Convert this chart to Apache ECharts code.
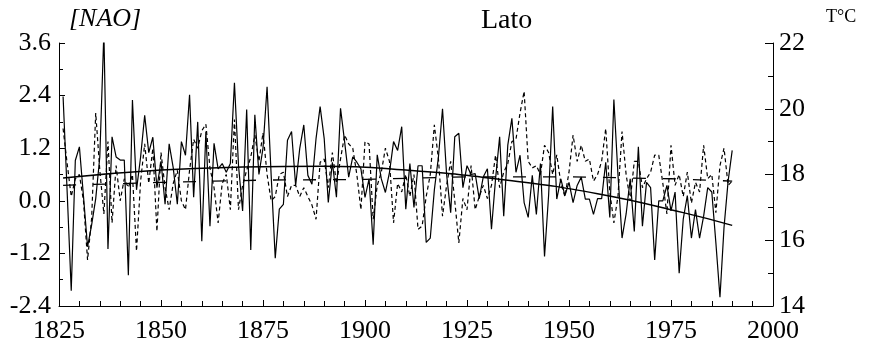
<!DOCTYPE html>
<html>
<head>
<meta charset="utf-8">
<script src="https://cdn.jsdelivr.net/npm/echarts@6/dist/echarts.min.js"></script>
<style>
  html, body { margin: 0; padding: 0; background: #fff; }
  #main { width: 870px; height: 346px; }
</style>
</head>
<body>
<div id="main"></div>
<script>
// summer (Lato) series, one value per year from startYear
var startYear = 1826;

// NAO index, left axis
var naoSummer = [
  2.38, 0.2, -2.05, 0.92, 1.23, 0.1, -1.05, -0.55, 0.05, 1.0,
  3.85, -1.1, 1.46, 1.0, 0.93, 0.93, -1.7, 2.3, 0.25, 1.0,
  1.95, 1.1, 1.45, 0.3, 0.9, -0.08, 1.3, 0.75, -0.08, 1.35,
  1.04, 2.42, 0.08, 1.8, -0.92, 1.58, -0.58, 1.31, 0.73, 0.85,
  0.65, 0.85, 2.69, 0.8, -0.23, 2.08, -1.12, 1.96, 0.6, 1.2,
  2.6, 0.58, -1.31, -0.19, -0.08, 1.38, 1.58, 0.35, 1.19, 1.73,
  0.58, 0.38, 1.42, 2.15, 1.42, -0.04, 0.88, 0.08, 2.11, 1.35,
  0.54, 1.0, 0.88, 0.73, 0.08, 0.5, -1.0, 1.05, 0.5, 0.19,
  0.65, 1.35, 1.15, 1.69, -0.19, 0.85, -0.15, 0.8, 0.8, -0.95,
  -0.85, 0.25, 1.0, 2.1, 0.6, -0.27, 1.46, 1.54, 0.3, 0.8,
  0.6, 0.62, 0.05, 0.55, 0.73, -0.65, 0.5, 1.46, -0.35, 1.27,
  1.88, 0.65, 1.04, -0.04, -0.38, 0.58, -0.31, 0.85, -1.27, 0.12,
  2.15, 0.04, 0.5, 0.12, 0.42, -0.04, 0.35, 0.54, 0.04, 0.04,
  -0.31, 0.05, 0.05, 0.88, -0.38, 2.31, 0.6, -0.85, -0.3, 0.5,
  -0.7, 1.23, -0.58, 0.42, 0.3, -1.35, 0.0, 0.0, 0.35, -0.23,
  0.2, -1.65, -0.42, 0.12, -0.85, -0.2, -0.85, -0.35, 0.3, 0.2,
  -0.96, -2.2, -0.6, 0.45, 1.15
];

// summer temperature, right axis (deg C)
var tempSummer = [
  19.40, 18.33, 17.33, 17.87, 18.00, 17.20, 15.40, 16.67, 19.87, 18.13,
  16.80, 19.00, 16.53, 18.27, 17.20, 17.87, 17.60, 18.00, 15.67, 17.80,
  18.93, 17.73, 18.80, 16.27, 18.67, 17.60, 16.93, 17.73, 18.13, 17.20,
  16.93, 18.13, 19.07, 18.80, 19.33, 19.53, 18.20, 17.60, 16.53, 17.73,
  18.00, 16.93, 19.67, 16.93, 17.67, 18.13, 18.53, 19.20, 18.40, 19.27,
  18.00, 17.20, 17.33, 18.00, 18.07, 17.33, 17.67, 17.67, 17.33, 17.60,
  17.33, 17.07, 16.64, 18.37, 18.47, 17.60, 18.67, 17.73, 18.47, 19.20,
  18.93, 18.80, 18.00, 16.93, 19.00, 18.93, 16.64, 17.67, 18.07, 18.80,
  18.40, 16.53, 17.73, 17.47, 18.00, 17.33, 18.00, 16.33, 16.43, 17.33,
  18.00, 19.51, 18.47, 16.73, 17.67, 18.40, 17.20, 15.92, 17.27, 16.93,
  18.27, 16.93, 17.33, 17.67, 17.27, 17.67, 18.59, 17.60, 18.07, 18.33,
  19.00, 19.07, 19.87, 20.53, 18.40, 18.20, 18.27, 18.00, 18.89, 18.67,
  18.00, 18.60, 17.73, 17.33, 18.07, 19.20, 18.40, 18.89, 18.40, 18.47,
  17.80, 18.00, 18.40, 19.40, 17.47, 16.53, 17.33, 19.31, 18.00, 17.20,
  18.40, 18.40, 17.60, 17.87, 18.07, 18.59, 18.59, 17.73, 16.80, 18.89,
  17.67, 18.00, 17.33, 18.07, 17.13, 17.76, 17.47, 18.89, 17.87, 18.00,
  16.84, 18.27, 18.80, 17.67, 17.80
];

// long-term temperature level (long dashes)
var meanYears = [1826, 1850, 1875, 1900, 1925, 1950, 1975, 1990];
var meanTemp  = [17.67, 17.76, 17.83, 17.85, 17.93, 17.93, 17.87, 17.80];

// NAO trend curve
var trendYears = [1826, 1850, 1870, 1890, 1910, 1935, 1957, 1978, 1990];
var trendNao   = [0.52, 0.70, 0.77, 0.79, 0.70, 0.47, 0.16, -0.27, -0.56];

function byYear(vals) {
  return vals.map(function (v, i) { return [startYear + i, v]; });
}
function zip(xs, ys) {
  return xs.map(function (x, i) { return [x, ys[i]]; });
}

var serif = 'Liberation Serif';
var chart = echarts.init(document.getElementById('main'));

var axisLine = { show: true, onZero: false, lineStyle: { color: '#000', width: 1 } };
var tickStyle = { color: '#000', width: 1 };

var option = {
  animation: false,
  backgroundColor: '#fff',
  grid: { left: 59, right: 97, top: 43, bottom: 40 },
  title: [
    { text: 'Lato', left: 476, top: 2, textStyle: { fontFamily: serif, fontSize: 28, fontWeight: 'normal', color: '#000' } },
    { text: '[NAO]', left: 64, top: 1, textStyle: { fontFamily: serif, fontSize: 26, fontStyle: 'italic', fontWeight: 'normal', color: '#000' } },
    { text: 'T\u00B0C', left: 821, top: 3, textStyle: { fontFamily: serif, fontSize: 18, fontWeight: 'normal', color: '#000' } }
  ],
  xAxis: {
    type: 'value', min: 1825, max: 2000, interval: 25,
    axisLine: axisLine,
    axisTick: { show: true, inside: true, length: 6, lineStyle: tickStyle },
    minorTick: { show: true, splitNumber: 5, length: 5, lineStyle: tickStyle },
    splitLine: { show: false },
    axisLabel: {
      color: '#000', fontFamily: serif, fontSize: 26, margin: 12,
      formatter: function (v) { return String(v); }
    }
  },
  yAxis: [
    {
      type: 'value', position: 'left', min: -2.4, max: 3.6, interval: 1.2,
      axisLine: axisLine,
      axisTick: { show: true, inside: true, length: 6, lineStyle: tickStyle },
      minorTick: { show: true, splitNumber: 2, length: 4, lineStyle: tickStyle },
      splitLine: { show: false },
      axisLabel: {
        color: '#000', fontFamily: serif, fontSize: 26, margin: 8, padding: [8, 0, 0, 0],
        formatter: function (v) { return Math.abs(v) < 1e-9 ? '0.0' : v.toFixed(1); }
      }
    },
    {
      type: 'value', position: 'right', min: 14, max: 22, interval: 2,
      axisLine: axisLine,
      axisTick: { show: true, inside: true, length: 8, lineStyle: tickStyle },
      minorTick: { show: true, splitNumber: 2, length: 5, lineStyle: tickStyle },
      splitLine: { show: false },
      axisLabel: { color: '#000', fontFamily: serif, fontSize: 26, margin: 6, padding: [6, 0, 0, 0] }
    }
  ],
  series: [
    {
      type: 'line', yAxisIndex: 1, data: byYear(tempSummer),
      symbol: 'none', lineStyle: { color: '#000', width: 1.2, type: [4, 3] }, z: 2
    },
    {
      type: 'line', yAxisIndex: 1, data: zip(meanYears, meanTemp),
      symbol: 'none', lineStyle: { color: '#000', width: 1.3, type: [13, 17] }, z: 3
    },
    {
      type: 'line', yAxisIndex: 0, data: byYear(naoSummer),
      symbol: 'none', lineStyle: { color: '#000', width: 1.2 }, z: 4
    },
    {
      type: 'line', yAxisIndex: 0, data: zip(trendYears, trendNao), smooth: true,
      symbol: 'none', lineStyle: { color: '#000', width: 1.5 }, z: 5
    }
  ]
};

chart.setOption(option);
</script>
</body>
</html>
